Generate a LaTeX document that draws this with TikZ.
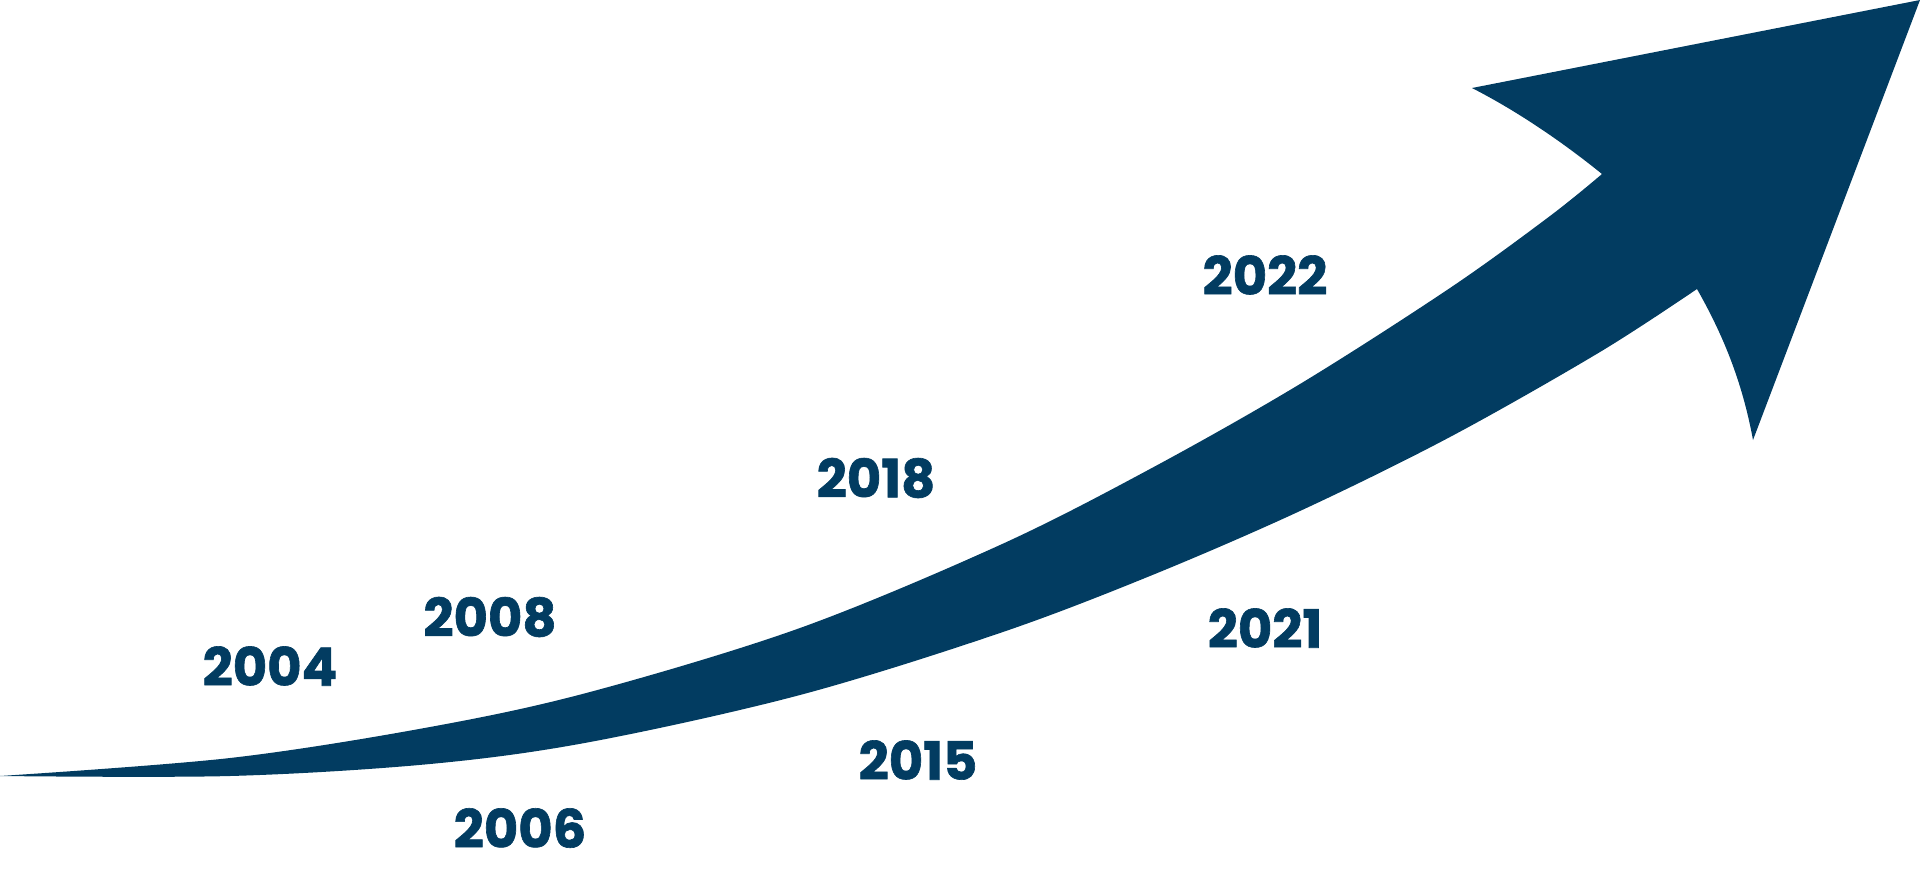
\documentclass[tikz,border=0pt]{standalone}
\usepackage{fontspec}
\setmainfont{Poppins}[BoldFeatures={FakeBold=1.2}]
\usepackage{xcolor}
\usepackage{tikz}
\definecolor{swooshblue}{HTML}{023C61}

\begin{document}
\begin{tikzpicture}[
x=0.01cm, y=-0.01cm,
yearlabel/.style={text=swooshblue, font=\fontsize{15}{18}\selectfont\bfseries, inner sep=0pt, anchor=center},
swoosh/.style={fill=swooshblue, draw=none}
]
\useasboundingbox (0,0) rectangle (1920,878);
% points of the arrow head
\coordinate (barb top) at (1472,88);
\coordinate (tip) at (1920,0);
\coordinate (barb low) at (1753,440);
\coordinate (notch low) at (1697,289);
% the rising arrow
\fill[swoosh] plot[smooth, tension=0.55] coordinates {(0,776) (230,758) (430,727) (590,692) (800,628) (1000,545) (1150,469) (1300,384) (1450,288) (1550,216) (1602,174)}
  .. controls (1560,140) and (1515,110) .. (barb top)
  -- (tip) -- (barb low)
  .. controls (1742,380) and (1722,333) .. (notch low)
  -- plot[smooth, tension=0.55] coordinates {(1697,289) (1600,352) (1450,437) (1300,511) (1150,576) (1000,633) (800,695) (590,742) (430,764) (230,776) (0,776)}
  -- cycle;
% years above the arrow
\node[yearlabel] (y2004) at (270,666) {2004};
\node[yearlabel] (y2008) at (490,617) {2008};
\node[yearlabel] (y2018) at (876,478) {2018};
\node[yearlabel] (y2022) at (1265,275) {2022};
% years below the arrow
\node[yearlabel] (y2006) at (520,828) {2006};
\node[yearlabel] (y2015) at (918,760) {2015};
\node[yearlabel] (y2021) at (1265,628) {2021};
\end{tikzpicture}
\end{document}
